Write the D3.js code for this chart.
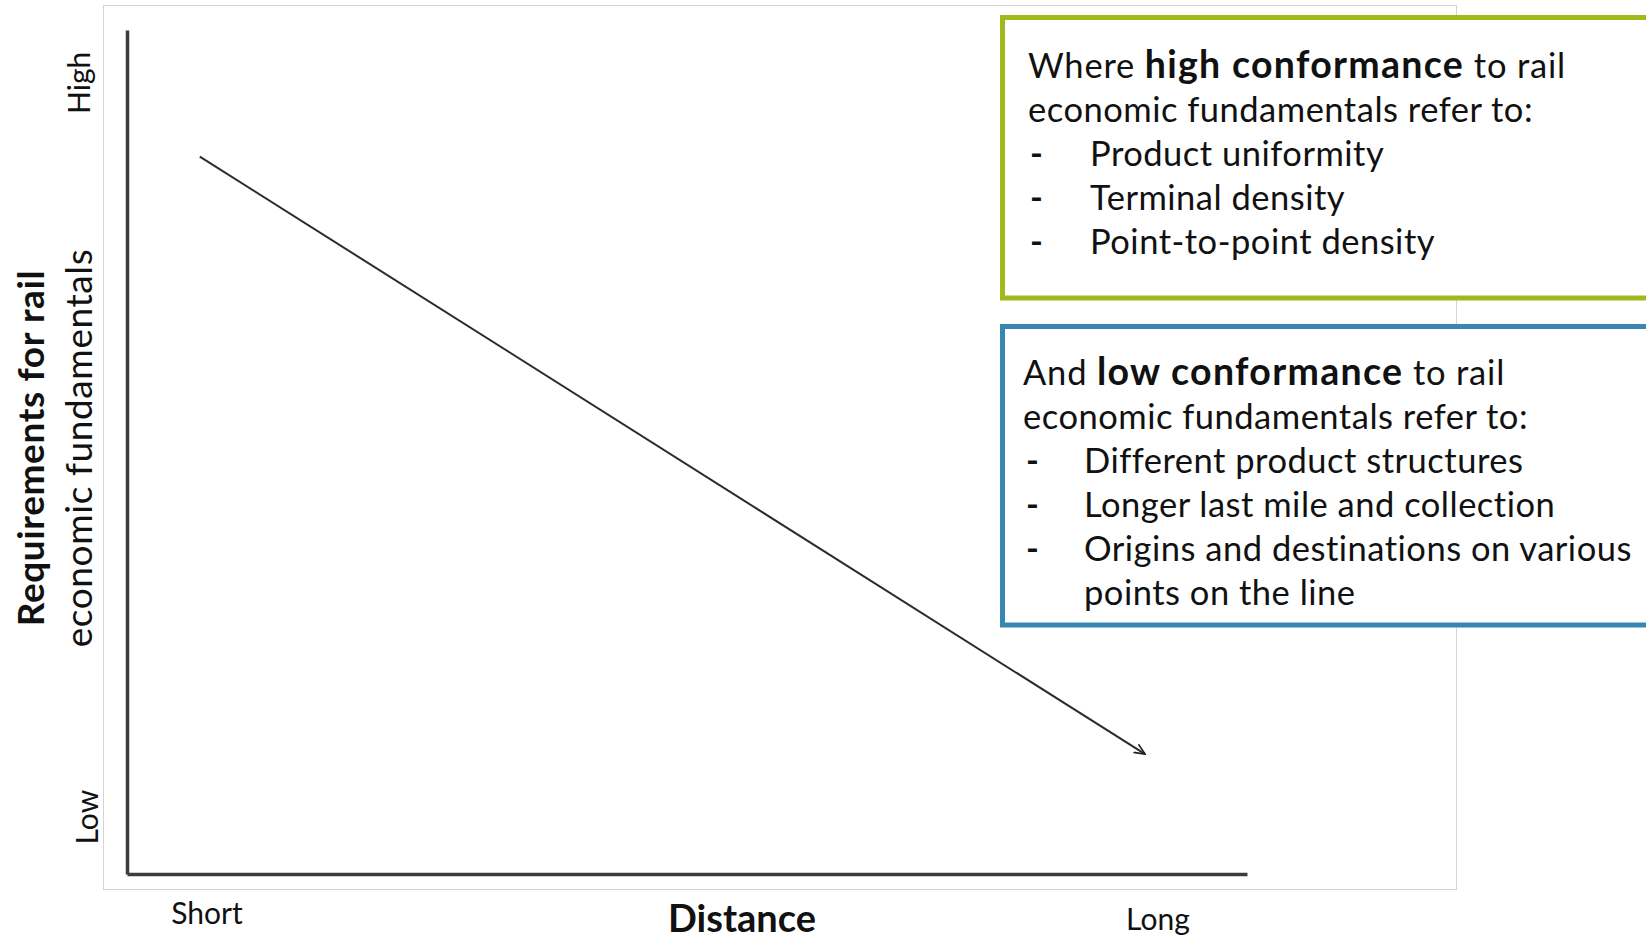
<!DOCTYPE html>
<html>
<head>
<meta charset="utf-8">
<script src="https://cdn.jsdelivr.net/npm/d3@7/dist/d3.min.js"></script>
<style>
  html, body { margin: 0; padding: 0; background: #fff; }
  svg { display: block; }
  text { font-family: Lato, "Open Sans", sans-serif; fill: #111; }
</style>
</head>
<body>
<svg id="chart" width="1646" height="939"></svg>
<script>
// Axis categories and their positions on a 0-100 scale
const distanceLabels = ["Short", "Long"];
const distanceTickValues = [7.1, 92];
const requirementLabels = ["Low", "High"];
const requirementTickValues = [6.8, 93.8];

// Trend arrow: requirements fall as distance grows
const trendDistance = [6.5, 90.9];
const trendRequirement = [85, 14.2];

// Annotation boxes
const highBoxLead = [["Where ", false], ["high conformance", true], [" to rail", false]];
const highBoxItems = ["Product uniformity", "Terminal density", "Point-to-point density"];
const lowBoxLead = [["And ", false], ["low conformance", true], [" to rail", false]];
const lowBoxItems = ["Different product structures", "Longer last mile and collection",
                     "Origins and destinations on various", "points on the line"];
const secondLine = "economic fundamentals refer to:";

const svg = d3.select("#chart");

const x = d3.scaleLinear().domain([0, 100]).range([127, 1247]);
const y = d3.scaleLinear().domain([0, 100]).range([874, 30]);

// outer frame of the plot panel
svg.append("rect")
  .attr("x", 103.5).attr("y", 5.5).attr("width", 1353).attr("height", 884)
  .attr("fill", "#fff").attr("stroke", "#d4d4d4").attr("stroke-width", 1);

// axes
const xAxis = svg.append("g").attr("transform", `translate(0,${y(0)})`)
  .call(d3.axisBottom(x).tickValues(distanceTickValues)
    .tickFormat((d, i) => distanceLabels[i]).tickSize(0).tickPadding(0));
const yAxis = svg.append("g").attr("transform", `translate(${x(0)},0)`)
  .call(d3.axisLeft(y).tickValues(requirementTickValues)
    .tickFormat((d, i) => requirementLabels[i]).tickSize(0).tickPadding(0));

[xAxis, yAxis].forEach(g => g.select(".domain")
  .attr("stroke", "#3c3c3c").attr("stroke-width", 3.5));

xAxis.selectAll(".tick text")
  .attr("font-family", "Lato, sans-serif").attr("font-size", 30).attr("fill", "#111")
  .attr("dy", null)
  .attr("y", (d, i) => i === 0 ? 50 : 56);

yAxis.selectAll(".tick text")
  .attr("font-family", "Lato, sans-serif").attr("font-size", 30).attr("fill", "#111")
  .attr("text-anchor", "middle").attr("dy", null).attr("x", null)
  .attr("transform", (d, i) => `translate(${i === 0 ? -29 : -37},0) rotate(-90)`);

// axis titles
svg.append("text")
  .attr("x", 742).attr("y", 932)
  .attr("text-anchor", "middle").attr("font-size", 38).attr("font-weight", 700)
  .text("Distance");

svg.append("text")
  .attr("transform", "translate(44,448) rotate(-90)")
  .attr("text-anchor", "middle").attr("font-size", 37).attr("font-weight", 700)
  .attr("letter-spacing", 0.6)
  .text("Requirements for rail");
svg.append("text")
  .attr("transform", "translate(92,448) rotate(-90)")
  .attr("text-anchor", "middle").attr("font-size", 37)
  .attr("letter-spacing", 0.6)
  .text("economic fundamentals");

// trend arrow
svg.append("defs").append("marker")
  .attr("id", "head").attr("viewBox", "0 0 10 10")
  .attr("refX", 9).attr("refY", 5)
  .attr("markerWidth", 6).attr("markerHeight", 6)
  .attr("markerUnits", "strokeWidth").attr("orient", "auto")
  .append("path").attr("d", "M0,1 L9,5 L0,9").attr("fill", "none")
  .attr("stroke", "#222").attr("stroke-width", 1.4);

const trend = trendDistance.map((d, i) => [d, trendRequirement[i]]);
svg.append("path")
  .datum(trend)
  .attr("d", d3.line().x(d => x(d[0])).y(d => y(d[1])))
  .attr("fill", "none").attr("stroke", "#2b2b2b").attr("stroke-width", 2)
  .attr("marker-end", "url(#head)");

// annotation boxes
const boxFont = 34.5;
const boxBoldFont = 37.5;
function drawBox(opt) {
  const g = svg.append("g").attr("font-size", boxFont).attr("letter-spacing", 0.5);
  g.append("rect")
    .attr("x", opt.x).attr("y", opt.y).attr("width", 700).attr("height", opt.h)
    .attr("fill", "#fff").attr("stroke", opt.color).attr("stroke-width", 5);
  const lead = g.append("text").attr("x", opt.tx).attr("y", opt.ty);
  lead.selectAll("tspan").data(opt.lead).join("tspan")
    .attr("font-weight", d => d[1] ? 700 : 400)
    .attr("font-size", d => d[1] ? boxBoldFont : boxFont)
    .attr("letter-spacing", d => d[1] ? 1.3 : 0.8)
    .style("white-space", "pre")
    .text(d => d[0]);
  g.append("text").attr("x", opt.tx).attr("y", opt.ty + opt.lh).text(secondLine);
  opt.items.forEach((item, i) => {
    const yy = opt.ty + opt.lh * (i + 2);
    const continued = i === opt.items.length - 1 && opt.lastIsWrap;
    if (!continued) {
      g.append("text").attr("x", opt.dx).attr("y", yy).attr("font-weight", 700).text("-");
    }
    g.append("text").attr("x", opt.ix).attr("y", yy).text(item);
  });
}

drawBox({ x: 1002.5, y: 17.5, h: 280.5, color: "#9dbb1d",
  lead: highBoxLead, items: highBoxItems,
  tx: 1028, ty: 78, lh: 44, dx: 1030, ix: 1090, lastIsWrap: false });

drawBox({ x: 1002.5, y: 326.5, h: 298.5, color: "#3a86b2",
  lead: lowBoxLead, items: lowBoxItems,
  tx: 1023, ty: 385, lh: 44, dx: 1026, ix: 1084, lastIsWrap: true });
</script>
</body>
</html>
